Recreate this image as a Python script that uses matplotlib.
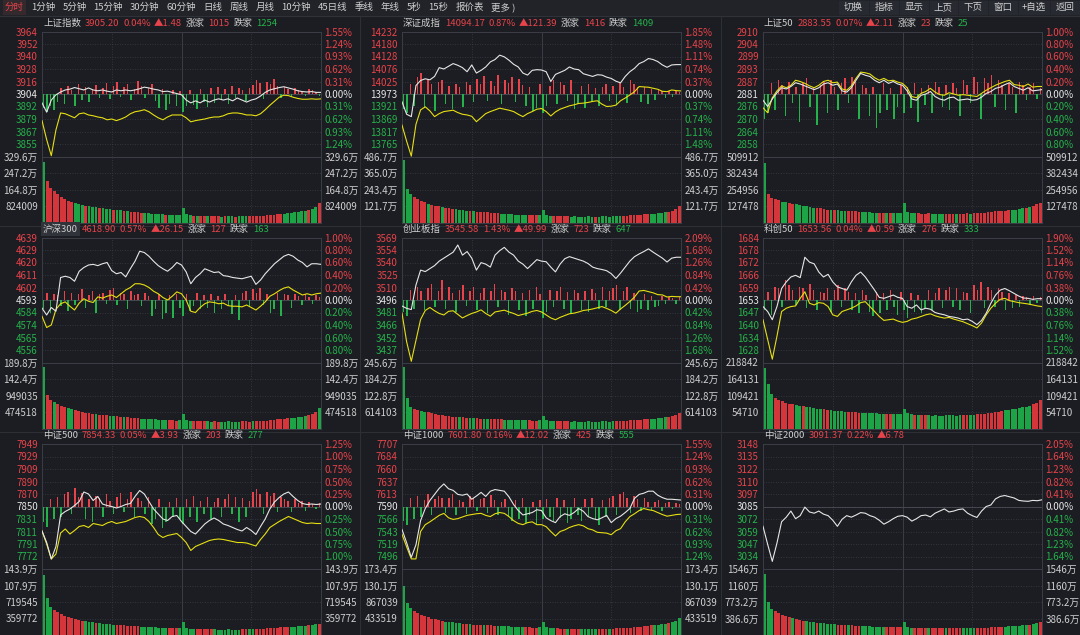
import matplotlib
matplotlib.use('Agg')
import matplotlib.pyplot as plt
from matplotlib.patches import Rectangle
from matplotlib.lines import Line2D

plt.rcParams['font.family'] = ['Noto Sans CJK SC', 'DejaVu Sans']
plt.rcParams['axes.unicode_minus'] = False

# ---- data ----
names = ['上证指数', '深证成指', '上证50', '沪深300', '创业板指', '科创50', '中证500', '中证1000', '中证2000']
last_price = ['3905.20', '14094.17', '2883.55', '4618.90', '3545.58', '1653.56', '7854.33', '7601.80', '3091.37']
pct_chg = ['0.04%', '0.87%', '0.07%', '0.57%', '1.43%', '0.04%', '0.05%', '0.16%', '0.22%']
chg = ['▲1.48', '▲121.39', '▲2.11', '▲26.15', '▲49.99', '▲0.59', '▲3.93', '▲12.02', '▲6.78']
up_count = ['1015', '1416', '23', '127', '723', '276', '203', '425', None]
down_count = ['1254', '1409', '25', '163', '647', '333', '277', '555', None]

price_labels = [
    ['3964', '3952', '3940', '3928', '3916', '3904', '3892', '3879', '3867', '3855'],
    ['14232', '14180', '14128', '14076', '14025', '13973', '13921', '13869', '13817', '13765'],
    ['2910', '2904', '2899', '2893', '2887', '2881', '2876', '2870', '2864', '2858'],
    ['4639', '4629', '4620', '4611', '4602', '4593', '4584', '4574', '4565', '4556'],
    ['3569', '3554', '3540', '3525', '3510', '3496', '3481', '3466', '3452', '3437'],
    ['1684', '1678', '1672', '1666', '1659', '1653', '1647', '1640', '1634', '1628'],
    ['7949', '7929', '7909', '7890', '7870', '7850', '7831', '7811', '7791', '7772'],
    ['7707', '7684', '7660', '7637', '7613', '7590', '7566', '7543', '7519', '7496'],
    ['3148', '3135', '3122', '3110', '3097', '3085', '3072', '3059', '3047', '3034'],
]
pct_labels = [
    ['1.55%', '1.24%', '0.93%', '0.62%', '0.31%', '0.00%', '0.31%', '0.62%', '0.93%', '1.24%'],
    ['1.85%', '1.48%', '1.11%', '0.74%', '0.37%', '0.00%', '0.37%', '0.74%', '1.11%', '1.48%'],
    ['1.00%', '0.80%', '0.60%', '0.40%', '0.20%', '0.00%', '0.20%', '0.40%', '0.60%', '0.80%'],
    ['1.00%', '0.80%', '0.60%', '0.40%', '0.20%', '0.00%', '0.20%', '0.40%', '0.60%', '0.80%'],
    ['2.09%', '1.68%', '1.26%', '0.84%', '0.42%', '0.00%', '0.42%', '0.84%', '1.26%', '1.68%'],
    ['1.90%', '1.52%', '1.14%', '0.76%', '0.38%', '0.00%', '0.38%', '0.76%', '1.14%', '1.52%'],
    ['1.25%', '1.00%', '0.75%', '0.50%', '0.25%', '0.00%', '0.25%', '0.50%', '0.75%', '1.00%'],
    ['1.55%', '1.24%', '0.93%', '0.62%', '0.31%', '0.00%', '0.31%', '0.62%', '0.93%', '1.24%'],
    ['2.05%', '1.64%', '1.23%', '0.82%', '0.41%', '0.00%', '0.41%', '0.82%', '1.23%', '1.64%'],
]
pct_max = [1.55, 1.85, 1.00, 1.00, 2.09, 1.90, 1.25, 1.55, 2.05]

# volume axis top, in 万
vol_top = [329.6, 486.7, 50.9912, 189.8, 245.6, 21.8842, 143.9, 173.4, 1546]
vol_labels = [
    ['329.6万', '247.2万', '164.8万', '824009'],
    ['486.7万', '365.0万', '243.4万', '121.7万'],
    ['509912', '382434', '254956', '127478'],
    ['189.8万', '142.4万', '949035', '474518'],
    ['245.6万', '184.2万', '122.8万', '614103'],
    ['218842', '164131', '109421', '54710'],
    ['143.9万', '107.9万', '719545', '359772'],
    ['173.4万', '130.1万', '867039', '433519'],
    ['1546万', '1160万', '773.2万', '386.6万'],
]

# sample minutes of the intraday lines (every 4 min) and bars (every 3 min)
minutes = list(range(0, 241, 4))
bar_minutes = [1.5 + 3 * k for k in range(80)]

# white = index change %, yellow = equal-weight change %
white_1 = [-0.22, -0.45, -0.15, -0.02, 0.05, 0.10, 0.12, 0.16, 0.13, 0.10,
           0.15, 0.10, 0.08, 0.10, 0.07, 0.05, 0.10, 0.08, 0.10, 0.08,
           0.10, 0.13, 0.17, 0.15, 0.12, 0.10, 0.06, 0.07, 0.04, 0.01,
           -0.02, -0.15, -0.22, -0.17, -0.22, -0.15, -0.20, -0.15, -0.12, -0.15,
           -0.12, -0.17, -0.10, -0.15, -0.20, -0.15, -0.12, -0.05, 0.04, 0.10,
           0.13, 0.16, 0.18, 0.15, 0.12, 0.08, 0.06, 0.05, 0.06, 0.04,
           0.04]
yellow_1 = [-0.66, -1.13, -1.53, -0.89, -0.47, -0.49, -0.54, -0.59, -0.49, -0.47,
            -0.52, -0.54, -0.57, -0.59, -0.64, -0.62, -0.66, -0.62, -0.57, -0.49,
            -0.44, -0.42, -0.39, -0.44, -0.52, -0.59, -0.64, -0.57, -0.52, -0.52,
            -0.52, -0.59, -0.69, -0.66, -0.64, -0.62, -0.59, -0.57, -0.57, -0.54,
            -0.49, -0.47, -0.47, -0.49, -0.52, -0.52, -0.54, -0.49, -0.39, -0.28,
            -0.18, -0.08, -0.03, -0.04, -0.08, -0.11, -0.13, -0.13, -0.12, -0.13,
            -0.12]
white_2 = [-0.23, -0.60, -0.67, 0.25, 0.40, 0.45, 0.42, 0.52, 0.78, 0.74,
           0.82, 0.90, 0.85, 0.78, 0.66, 0.86, 0.62, 0.70, 0.80, 0.95,
           1.02, 1.15, 1.10, 1.00, 0.88, 0.80, 0.62, 0.56, 0.70, 0.72,
           0.71, 0.66, 0.37, 0.58, 0.64, 0.70, 0.80, 0.74, 0.72, 0.60,
           0.56, 0.52, 0.57, 0.56, 0.50, 0.46, 0.38, 0.33, 0.52, 0.66,
           0.76, 0.90, 0.96, 1.05, 1.02, 0.96, 0.86, 0.79, 0.86, 0.87,
           0.87]
yellow_2 = [-0.92, -1.40, -1.84, -0.90, -0.47, -0.38, -0.50, -0.67, -0.58, -0.52,
            -0.50, -0.48, -0.55, -0.60, -0.62, -0.66, -0.82, -0.70, -0.58, -0.52,
            -0.47, -0.42, -0.45, -0.48, -0.52, -0.60, -0.67, -0.58, -0.52, -0.45,
            -0.43, -0.52, -0.65, -0.53, -0.45, -0.40, -0.35, -0.32, -0.28, -0.27,
            -0.25, -0.22, -0.20, -0.30, -0.37, -0.36, -0.33, -0.20, -0.12, -0.03,
            0.07, 0.22, 0.21, 0.20, 0.17, 0.14, 0.08, 0.07, 0.12, 0.10,
            0.09]
white_3 = [-0.10, -0.20, -0.08, 0.02, 0.10, 0.08, 0.12, 0.18, 0.16, 0.13,
           0.10, 0.07, 0.10, 0.16, 0.18, 0.14, 0.16, 0.05, 0.03, 0.10,
           0.22, 0.33, 0.30, 0.28, 0.22, 0.18, 0.22, 0.17, 0.20, 0.16,
           0.14, 0.05, -0.08, -0.10, -0.02, 0.00, 0.04, -0.04, -0.08, -0.10,
           -0.06, -0.05, -0.10, -0.09, -0.08, -0.10, -0.09, -0.05, 0.01, 0.04,
           0.09, 0.11, 0.15, 0.18, 0.12, 0.09, 0.06, 0.10, 0.05, 0.06,
           0.07]
yellow_3 = [-0.22, -0.30, -0.06, 0.05, 0.13, 0.10, 0.14, 0.22, 0.20, 0.17,
            0.13, 0.10, 0.14, 0.20, 0.22, 0.18, 0.19, 0.08, 0.06, 0.13,
            0.25, 0.35, 0.34, 0.32, 0.26, 0.22, 0.25, 0.21, 0.22, 0.19,
            0.17, 0.10, -0.04, -0.06, 0.01, 0.04, 0.09, 0.03, -0.01, -0.02,
            0.02, 0.00, -0.02, -0.01, -0.02, -0.03, -0.04, 0.01, 0.06, 0.10,
            0.14, 0.17, 0.20, 0.22, 0.15, 0.14, 0.12, 0.16, 0.11, 0.12,
            0.12]
white_4 = [-0.13, -0.24, -0.12, -0.18, 0.36, 0.38, 0.36, 0.30, 0.46, 0.52,
           0.56, 0.57, 0.55, 0.58, 0.60, 0.47, 0.42, 0.44, 0.37, 0.50,
           0.62, 0.78, 0.76, 0.70, 0.62, 0.55, 0.50, 0.46, 0.52, 0.60,
           0.56, 0.45, 0.26, 0.36, 0.42, 0.50, 0.47, 0.44, 0.45, 0.39,
           0.38, 0.36, 0.35, 0.34, 0.36, 0.38, 0.25, 0.32, 0.42, 0.50,
           0.58, 0.64, 0.70, 0.73, 0.70, 0.64, 0.60, 0.53, 0.58, 0.58,
           0.57]
yellow_4 = [-0.26, -0.44, -0.40, -0.15, -0.06, -0.03, -0.10, -0.16, -0.05, 0.02,
            -0.02, -0.04, 0.05, 0.03, 0.06, 0.08, 0.04, 0.10, 0.16, 0.20,
            0.26, 0.26, 0.24, 0.20, 0.14, 0.10, 0.04, 0.00, 0.06, 0.13,
            0.10, 0.00, -0.18, -0.20, -0.12, -0.06, -0.03, -0.04, -0.06, -0.05,
            -0.09, -0.10, -0.10, -0.11, -0.08, -0.12, -0.16, -0.10, -0.03, 0.06,
            0.10, 0.15, 0.19, 0.21, 0.16, 0.12, 0.08, 0.10, 0.08, 0.10,
            0.11]
white_5 = [-0.20, -0.28, -0.32, 0.50, 1.00, 0.95, 1.05, 1.15, 1.30, 1.40,
           1.50, 1.60, 1.84, 1.50, 1.62, 1.40, 1.00, 1.25, 1.20, 1.10,
           1.50, 1.65, 1.76, 1.60, 1.50, 1.30, 1.20, 1.05, 1.20, 1.35,
           1.30, 1.28, 1.10, 0.94, 1.20, 1.38, 1.45, 1.40, 1.35, 1.30,
           1.22, 1.10, 1.05, 1.02, 0.98, 0.88, 0.72, 0.90, 1.10, 1.30,
           1.45, 1.54, 1.62, 1.71, 1.60, 1.50, 1.40, 1.27, 1.40, 1.43,
           1.43]
yellow_5 = [-0.44, -1.40, -2.05, -1.35, -0.65, -0.35, -0.25, -0.36, -0.45, -0.50,
            -0.38, -0.36, -0.48, -0.60, -0.52, -0.45, -0.40, -0.33, -0.45, -0.54,
            -0.40, -0.37, -0.34, -0.40, -0.45, -0.52, -0.48, -0.44, -0.38, -0.35,
            -0.40, -0.50, -0.60, -0.66, -0.58, -0.52, -0.46, -0.44, -0.40, -0.35,
            -0.33, -0.30, -0.26, -0.22, -0.28, -0.35, -0.44, -0.30, -0.18, -0.05,
            0.10, 0.30, 0.32, 0.28, 0.24, 0.18, 0.17, 0.10, 0.12, 0.11,
            0.11]
white_6 = [-0.20, -0.35, -0.60, -0.20, 0.35, 0.55, 0.70, 0.75, 0.68, 1.30,
           1.15, 1.10, 0.85, 0.70, 0.78, 0.55, 0.40, 0.35, 0.30, 0.55,
           0.75, 0.85, 0.70, 0.50, 0.30, 0.08, 0.05, 0.10, 0.15, 0.08,
           0.05, -0.20, -0.25, -0.15, -0.30, -0.25, -0.28, -0.38, -0.42, -0.45,
           -0.50, -0.52, -0.55, -0.60, -0.58, -0.65, -0.75, -0.62, -0.40, -0.10,
           0.15, 0.30, 0.35, 0.28, 0.20, 0.12, 0.06, 0.05, 0.02, 0.04,
           0.04]
yellow_6 = [-0.60, -1.20, -1.80, -1.10, -0.35, -0.25, -0.20, -0.18, 0.05, 0.25,
            -0.10, -0.15, -0.08, -0.10, -0.20, -0.45, -0.50, -0.35, -0.30, -0.25,
            -0.18, -0.08, -0.05, -0.20, -0.35, -0.50, -0.62, -0.60, -0.58, -0.64,
            -0.68, -0.65, -0.58, -0.55, -0.50, -0.45, -0.42, -0.48, -0.52, -0.55,
            -0.53, -0.58, -0.62, -0.66, -0.72, -0.78, -0.85, -0.70, -0.45, -0.25,
            -0.10, 0.02, 0.05, -0.02, -0.05, -0.08, -0.10, -0.12, -0.15, -0.18,
            -0.20]
white_7 = [-0.49, -0.72, -1.05, -0.80, -0.17, -0.10, -0.05, 0.02, 0.10, 0.29,
           0.25, 0.12, 0.20, 0.05, 0.02, 0.00, -0.03, 0.00, 0.04, 0.06,
           0.20, 0.32, 0.25, 0.10, -0.05, -0.15, -0.25, -0.28, -0.20, -0.18,
           -0.30, -0.40, -0.50, -0.55, -0.45, -0.35, -0.28, -0.23, -0.28, -0.35,
           -0.38, -0.42, -0.46, -0.49, -0.42, -0.48, -0.56, -0.40, -0.25, -0.05,
           0.09, 0.18, 0.25, 0.29, 0.20, 0.12, 0.06, 0.04, 0.05, 0.04,
           0.05]
yellow_7 = [-0.49, -0.75, -1.05, -0.95, -0.53, -0.45, -0.55, -0.48, -0.40, -0.38,
            -0.42, -0.34, -0.36, -0.38, -0.33, -0.30, -0.34, -0.32, -0.30, -0.26,
            -0.22, -0.20, -0.22, -0.30, -0.42, -0.56, -0.62, -0.58, -0.56, -0.54,
            -0.62, -0.72, -0.88, -0.80, -0.76, -0.72, -0.68, -0.66, -0.65, -0.66,
            -0.68, -0.70, -0.72, -0.72, -0.73, -0.76, -0.79, -0.66, -0.55, -0.42,
            -0.36, -0.30, -0.25, -0.20, -0.24, -0.28, -0.32, -0.34, -0.33, -0.34,
            -0.34]
white_8 = [-0.57, -0.90, -1.26, -0.95, -0.35, -0.05, 0.15, 0.30, 0.45, 0.56,
           0.44, 0.40, 0.30, 0.28, 0.31, 0.18, 0.26, 0.35, 0.25, 0.38,
           0.42, 0.40, 0.38, 0.24, 0.05, -0.10, -0.21, -0.18, -0.15, -0.08,
           -0.10, -0.28, -0.35, -0.40, -0.25, -0.18, -0.22, -0.15, -0.05, -0.12,
           -0.25, -0.30, -0.33, -0.28, -0.22, -0.40, -0.30, -0.24, -0.15, -0.05,
           0.20, 0.30, 0.33, 0.38, 0.38, 0.28, 0.22, 0.18, 0.18, 0.17,
           0.16]
yellow_8 = [-0.69, -1.00, -1.30, -1.30, -0.62, -0.45, -0.38, -0.30, -0.22, -0.17,
            -0.28, -0.32, -0.30, -0.26, -0.22, -0.20, -0.18, -0.17, -0.22, -0.25,
            -0.18, -0.15, -0.17, -0.25, -0.35, -0.42, -0.45, -0.40, -0.38, -0.45,
            -0.45, -0.50, -0.62, -0.73, -0.62, -0.58, -0.52, -0.48, -0.45, -0.48,
            -0.55, -0.58, -0.64, -0.65, -0.66, -0.70, -0.60, -0.55, -0.38, -0.25,
            -0.18, -0.10, -0.05, -0.08, -0.10, -0.15, -0.20, -0.24, -0.22, -0.20,
            -0.19]
white_9 = [-0.65, -1.24, -1.80, -1.20, -0.50, -0.35, -0.15, -0.40, -0.30, -0.02,
           -0.18, -0.22, -0.15, -0.25, -0.30, -0.45, -0.65, -0.42, -0.30, -0.35,
           -0.28, -0.20, -0.22, -0.30, -0.35, -0.45, -0.58, -0.50, -0.40, -0.32,
           -0.30, -0.35, -0.48, -0.40, -0.30, -0.28, -0.34, -0.22, -0.15, -0.08,
           -0.18, -0.15, -0.10, -0.08, -0.22, -0.30, -0.36, -0.15, 0.00, 0.05,
           0.25, 0.33, 0.36, 0.32, 0.28, 0.20, 0.18, 0.17, 0.20, 0.19,
           0.22]

# red/green strength bars in the price area, in %
breadth_1 = [-0.35, -0.45, -0.30, -0.40, -0.20, 0.15, -0.25, 0.20, 0.10, -0.30,
             0.25, -0.15, 0.18, -0.20, 0.12, 0.22, -0.10, 0.15, 0.28, -0.12,
             0.20, 0.30, -0.08, 0.18, 0.25, -0.15, 0.12, 0.32, 0.20, -0.10,
             0.16, 0.24, -0.18, -0.35, 0.12, -0.40, -0.25, 0.10, -0.30, 0.08,
             -0.45, -0.30, 0.10, -0.28, -0.38, 0.12, -0.20, -0.32, 0.15, -0.22,
             0.18, -0.15, 0.12, -0.25, 0.20, -0.10, 0.14, 0.10, -0.18, 0.16,
             0.22, 0.35, 0.28, -0.12, 0.30, 0.25, 0.38, 0.20, -0.10, 0.18,
             0.12, -0.08, 0.15, 0.10, 0.08, -0.06, 0.12, 0.10, 0.06, -0.05]
breadth_2 = [-0.45, -0.55, 0.30, -0.35, 0.50, 0.62, -0.40, 0.45, 0.30, -0.50,
             0.35, 0.40, -0.30, 0.25, -0.45, 0.30, 0.20, -0.38, 0.35, 0.28,
             -0.25, 0.45, 0.30, 0.52, -0.20, 0.38, 0.25, 0.55, -0.30, 0.40,
             0.32, 0.50, -0.25, 0.45, 0.28, -0.35, 0.20, -0.50, -0.40, 0.30,
             -0.55, -0.35, 0.25, 0.40, -0.30, 0.35, 0.28, -0.20, 0.42, -0.45,
             -0.30, 0.25, -0.40, 0.30, -0.25, 0.18, -0.35, 0.22, 0.30, -0.20,
             0.25, -0.30, 0.35, 0.20, -0.28, 0.42, 0.30, 0.22, -0.25, 0.20,
             -0.30, 0.15, -0.18, 0.12, 0.10, -0.12, 0.08, -0.10, 0.10, 0.06]
breadth_3 = [-0.40, -0.30, 0.18, -0.25, 0.22, 0.15, -0.35, 0.20, -0.15, 0.12,
             -0.45, 0.18, 0.25, -0.20, 0.10, -0.50, 0.15, 0.20, -0.30, 0.22,
             0.12, -0.25, 0.18, 0.25, -0.15, 0.28, 0.20, -0.40, 0.15, 0.10,
             -0.35, 0.12, -0.55, -0.30, 0.18, -0.25, 0.10, -0.40, -0.20, 0.15,
             -0.30, 0.12, -0.22, 0.18, -0.45, 0.10, -0.18, 0.14, -0.30, 0.20,
             0.12, -0.20, 0.15, -0.25, 0.18, 0.10, -0.35, 0.22, 0.15, -0.15,
             0.28, 0.20, -0.40, 0.25, 0.18, 0.30, -0.20, 0.22, 0.15, -0.25,
             0.18, 0.12, -0.30, 0.20, 0.15, -0.10, 0.12, 0.18, -0.08, 0.10]
breadth_4 = [-0.15, 0.12, -0.20, 0.10, 0.08, -0.10, 0.15, -0.18, 0.12, -0.08,
             0.10, 0.18, -0.12, 0.08, 0.14, -0.20, 0.10, 0.12, -0.06, 0.16,
             0.20, -0.08, 0.12, 0.10, -0.15, 0.14, 0.08, 0.10, -0.10, 0.12,
             0.06, -0.25, -0.15, 0.10, -0.30, -0.20, 0.08, -0.28, 0.10, -0.12,
             -0.25, 0.10, -0.18, -0.10, 0.12, -0.15, 0.08, -0.12, 0.10, -0.20,
             0.06, -0.15, 0.10, -0.10, -0.22, 0.08, -0.32, 0.12, 0.15, -0.10,
             0.18, 0.12, 0.20, -0.08, 0.10, -0.20, -0.15, 0.12, -0.25, 0.10,
             0.08, -0.12, 0.10, 0.06, -0.08, 0.10, 0.05, -0.06, 0.08, 0.05]
breadth_5 = [-0.40, -0.55, 0.35, -0.30, 0.45, 0.30, -0.35, 0.40, 0.55, -0.25,
             0.30, 0.66, -0.30, 0.45, 0.25, -0.40, 0.35, 0.50, -0.20, 0.30,
             0.42, -0.35, 0.25, 0.40, -0.45, 0.30, 0.55, -0.25, 0.35, 0.28,
             -0.50, 0.40, 0.30, -0.35, 0.25, -0.55, 0.32, -0.30, 0.45, 0.20,
             -0.60, -0.40, 0.35, -0.25, 0.30, 0.42, -0.30, 0.28, -0.45, 0.35,
             0.25, -0.35, 0.30, -0.40, 0.38, 0.22, -0.30, 0.45, -0.25, 0.30,
             0.40, 0.50, -0.35, 0.30, 0.45, -0.30, 0.25, -0.40, -0.30, 0.20,
             -0.35, 0.15, -0.25, -0.20, 0.12, -0.15, 0.10, 0.08, -0.12, 0.10]
breadth_6 = [-0.30, 0.25, -0.45, 0.40, 0.35, -0.20, 0.60, 0.45, 0.30, -0.15,
             0.40, 0.35, -0.25, 0.50, 0.30, -0.30, 0.25, 0.20, 0.35, -0.35,
             0.30, 0.45, -0.20, 0.38, 0.25, -0.30, 0.20, -0.40, 0.30, 0.15,
             -0.35, -0.50, 0.25, -0.40, 0.20, -0.30, 0.30, -0.20, -0.45, 0.25,
             -0.30, -0.55, 0.20, -0.35, 0.15, -0.40, -0.25, 0.30, -0.30, 0.20,
             0.35, -0.25, 0.30, 0.40, -0.20, 0.35, -0.30, 0.25, 0.20, -0.40,
             0.45, 0.30, 0.55, -0.25, 0.40, 0.30, -0.20, 0.35, 0.25, -0.30,
             0.20, -0.25, 0.15, -0.20, 0.12, 0.10, -0.15, 0.12, -0.10, 0.08]
breadth_7 = [-0.30, -0.40, 0.15, -0.25, 0.20, -0.20, 0.25, 0.30, -0.15, 0.38,
             0.20, 0.28, -0.25, 0.15, -0.30, 0.22, 0.18, -0.20, 0.25, 0.12,
             -0.15, 0.20, 0.28, -0.10, 0.15, 0.30, -0.20, 0.18, 0.12, -0.15,
             0.20, -0.35, -0.25, 0.15, -0.43, -0.30, 0.10, -0.20, 0.18, -0.25,
             -0.35, 0.15, -0.20, 0.22, -0.30, 0.12, -0.15, 0.20, -0.25, 0.10,
             0.18, -0.20, 0.15, 0.25, -0.15, 0.20, -0.30, 0.18, -0.20, 0.12,
             0.30, 0.35, 0.25, -0.15, 0.30, 0.22, 0.28, -0.10, 0.20, 0.15,
             0.12, -0.10, 0.15, 0.08, 0.12, -0.08, 0.10, 0.06, -0.05, 0.08]
breadth_8 = [-0.35, -0.45, 0.20, -0.30, 0.25, -0.25, 0.15, 0.30, -0.20, 0.18,
             0.25, 0.20, -0.15, 0.22, 0.30, -0.20, 0.15, 0.12, -0.18, 0.25,
             0.20, -0.10, 0.18, 0.22, -0.15, 0.28, 0.15, -0.20, 0.12, 0.18,
             -0.25, -0.35, 0.15, -0.30, 0.20, -0.40, -0.20, 0.12, -0.45, 0.15,
             -0.30, 0.18, -0.25, -0.35, 0.20, -0.28, 0.15, -0.40, -0.30, 0.22,
             -0.20, -0.35, 0.18, -0.25, 0.20, -0.30, -0.45, 0.15, -0.25, 0.20,
             0.25, -0.20, 0.30, 0.36, 0.20, -0.15, 0.25, 0.18, -0.10, 0.20,
             0.12, -0.08, 0.10, 0.15, -0.10, 0.08, 0.10, -0.06, 0.08, 0.06]

# traded volume per bar, in 万
vol_1 = [300, 205, 170, 155, 140, 128, 118, 108, 100, 95,
         90, 86, 82, 80, 78, 75, 72, 70, 68, 66,
         64, 62, 60, 58, 56, 54, 52, 50, 48, 46,
         45, 44, 42, 41, 40, 39, 38, 37, 36, 38,
         70, 40, 36, 34, 33, 32, 31, 32, 30, 31,
         30, 29, 30, 31, 30, 29, 30, 31, 32, 30,
         31, 32, 33, 34, 35, 36, 38, 40, 42, 44,
         46, 48, 50, 52, 55, 58, 62, 68, 78, 95]
vol_2 = [460, 250, 210, 190, 175, 160, 150, 140, 132, 125,
         120, 115, 110, 106, 102, 98, 95, 92, 88, 85,
         82, 80, 78, 76, 74, 72, 70, 68, 66, 64,
         62, 60, 58, 57, 56, 55, 54, 53, 52, 54,
         95, 55, 50, 48, 47, 46, 45, 46, 44, 45,
         44, 43, 44, 45, 44, 43, 44, 45, 46, 44,
         45, 46, 47, 48, 50, 52, 54, 56, 58, 60,
         62, 64, 66, 68, 72, 76, 80, 88, 100, 125]
vol_3 = [46, 22, 19, 18, 17, 16, 15.5, 15, 14.5, 14,
         13.5, 13, 12.5, 12, 11.5, 11, 11, 10.5, 10, 10,
         9.5, 9.5, 9, 9, 8.8, 8.5, 8.5, 8.2, 8, 8,
         7.8, 7.6, 7.5, 7.4, 7.3, 7.2, 7, 7, 7, 7.2,
         15, 8, 7.5, 7.2, 7, 6.8, 6.8, 7, 6.6, 6.8,
         6.6, 6.5, 6.6, 6.8, 6.6, 6.5, 6.6, 6.8, 7, 6.8,
         7, 7.2, 7.4, 7.6, 8, 8.2, 8.5, 8.8, 9, 9.2,
         9.5, 9.8, 10, 10.5, 11, 11.5, 12, 13, 14, 15]
vol_4 = [178, 95, 82, 76, 70, 65, 61, 58, 55, 52,
         50, 48, 46, 44, 43, 42, 40, 39, 38, 37,
         36, 35, 34, 33, 32, 31, 30, 29, 28, 27.5,
         27, 26.5, 26, 25.5, 25, 24.5, 24, 23.5, 23, 24,
         42, 25, 23, 22, 21.5, 21, 20.5, 21, 20, 20.5,
         20, 19.5, 20, 20.5, 20, 19.5, 20, 20.5, 21, 20,
         20.5, 21, 21.5, 22, 23, 24, 25, 26, 27, 28,
         29, 30, 31, 32, 34, 36, 38, 42, 48, 58]
vol_5 = [227, 115, 80, 72, 68, 65, 62, 60, 57, 54,
         51, 49, 47, 45, 44, 43, 42, 41, 40, 39,
         38.5, 38, 37, 36.5, 36, 35.5, 35, 34, 33.5, 33,
         32.5, 32, 31.5, 31, 30.5, 30, 30, 29.5, 29, 30,
         46, 31, 29, 28, 27.5, 27, 26.5, 27, 26, 26.5,
         26, 25.5, 26, 26.5, 26, 25.5, 26, 26.5, 27, 26,
         26.5, 27, 27.5, 28, 29, 30, 31, 32, 33, 34,
         35, 36, 37, 38, 40, 42, 44, 46, 50, 56]
vol_6 = [20.2, 14.7, 11.4, 10, 9.5, 9, 8.6, 8.2, 8, 7.8,
         7.6, 7.4, 7.2, 7, 6.8, 6.6, 6.5, 6.3, 6.2, 6,
         5.9, 5.8, 5.7, 5.6, 5.5, 5.5, 5.4, 5.3, 5.2, 5.2,
         5.1, 5, 5, 4.9, 4.9, 4.8, 4.8, 4.7, 4.7, 4.8,
         6.5, 5, 4.7, 4.6, 4.5, 4.5, 4.4, 4.5, 4.3, 4.4,
         4.3, 4.3, 4.4, 4.5, 4.4, 4.3, 4.4, 4.5, 4.6, 4.5,
         4.6, 4.7, 4.8, 4.9, 5, 5.2, 5.4, 5.6, 5.8, 6,
         6.2, 6.4, 6.6, 6.8, 7, 7.2, 7.5, 8, 8.5, 9.5]
vol_7 = [130, 81, 62, 55, 50, 46, 42, 39, 37, 35,
         33, 31, 30, 29, 28, 27, 26, 25, 24, 23,
         22.5, 22, 21.5, 21, 20.5, 20, 19.5, 19, 18.5, 18,
         17.5, 17, 16.5, 16, 16, 15.5, 15, 15, 14.5, 15,
         28, 15, 14, 13.5, 13, 12.5, 12, 12.5, 12, 12,
         11.5, 11, 11.5, 12, 11.5, 11, 11.5, 12, 12.5, 12,
         12.5, 13, 13.5, 14, 14.5, 15, 15.5, 16, 16.5, 17,
         17.5, 18, 18.5, 19, 19.5, 20, 21, 22, 23, 25]
vol_8 = [130, 85, 72, 64, 58, 53, 49, 46, 43, 41,
         39, 37, 35, 34, 33, 32, 31, 30, 29, 28,
         27.5, 27, 26.5, 26, 25.5, 25, 24.5, 24, 23.5, 23,
         22.5, 22, 21.5, 21, 20.5, 20, 20, 19.5, 19, 20,
         34, 20, 18.5, 18, 17.5, 17, 16.5, 17, 16.5, 16.5,
         16, 15.5, 16, 16.5, 16, 15.5, 16, 16.5, 17, 16.5,
         17, 17.5, 18, 18.5, 19, 19.5, 20, 21, 22, 23,
         24, 25, 26, 27, 28, 30, 32, 34, 38, 45]
vol_9 = [1420, 780, 620, 560, 510, 470, 440, 410, 390, 370,
         350, 335, 320, 310, 300, 290, 280, 272, 265, 258,
         250, 245, 240, 235, 230, 225, 220, 215, 210, 205,
         200, 196, 192, 188, 185, 182, 180, 178, 176, 180,
         300, 185, 175, 170, 166, 162, 160, 162, 158, 160,
         156, 154, 156, 158, 156, 154, 156, 158, 160, 158,
         160, 162, 165, 168, 172, 176, 180, 185, 190, 195,
         200, 205, 212, 220, 228, 236, 245, 258, 275, 300]

whites = [white_1, white_2, white_3, white_4, white_5, white_6, white_7, white_8, white_9]
yellows = [yellow_1, yellow_2, yellow_3, yellow_4, yellow_5, yellow_6, yellow_7, yellow_8, None]
breadths = [breadth_1, breadth_2, breadth_3, breadth_4, breadth_5, breadth_6, breadth_7, breadth_8, None]
volumes = [vol_1, vol_2, vol_3, vol_4, vol_5, vol_6, vol_7, vol_8, vol_9]

toolbar_left = ['分时', '1分钟', '5分钟', '15分钟', '30分钟', '60分钟', '日线', '周线', '月线',
                '10分钟', '45日线', '季线', '年线', '5秒', '15秒', '报价表', '更多 )']
toolbar_right = ['切换', '指标', '显示', '上页', '下页', '窗口', '+自选', '返回']

# ---- style ----
BG = '#1b1d22'
BAR_BG = '#212329'
FRAME = '#3b3e46'
GRID = '#3a3d45'
RED = '#e8434a'
GREEN = '#26b24b'
WHITE = '#e6e6e6'
YELLOW = '#e6df12'
TXT = '#cfcfcf'
VRED = '#d4363c'
VGREEN = '#1da447'

W, H = 1080, 635
COL_LEFT = [42, 402, 763]
ROW_TOP = [31.5, 237.5, 444]
PLOT_W, PRICE_H, VOL_H = 279, 125, 66
FS = 7


def fx(px):
    return px / W


def fy(py):
    return 1 - py / H


def style_axes(ax):
    ax.set_facecolor('none')
    for sp in ax.spines.values():
        sp.set_color(FRAME)
        sp.set_linewidth(0.7)
    ax.set_xlim(0, 240)
    ax.set_xticks([60, 120, 180])
    ax.tick_params(axis='x', length=0, labelbottom=False)
    ax.tick_params(axis='y', length=0, pad=3, labelsize=FS)
    ax.grid(True, color=GRID, linestyle=(0, (1, 2)), linewidth=0.6)
    ax.axvline(120, color=FRAME, linewidth=0.7, zorder=1)


def right_labels(ax, ticks, labels, colors):
    sec = ax.secondary_yaxis('right')
    sec.set_yticks(ticks)
    sec.set_yticklabels(labels)
    sec.tick_params(length=0, pad=2.5, labelsize=FS)
    for sp in sec.spines.values():
        sp.set_visible(False)
    for lbl, c in zip(sec.get_yticklabels(), colors):
        lbl.set_color(c)


fig = plt.figure(figsize=(10.8, 6.35), dpi=100, facecolor=BG)
renderer = fig.canvas.get_renderer()

# toolbar
fig.patches.append(Rectangle((0, fy(15.5)), 1, 15.5 / H, transform=fig.transFigure,
                             facecolor=BAR_BG, edgecolor='none', zorder=0))
fig.lines.append(Line2D([0, 1], [fy(15.5), fy(15.5)], transform=fig.transFigure,
                        color='#2f3238', linewidth=0.8))
x = 5
for k, item in enumerate(toolbar_left):
    kw = {}
    col = TXT
    if k == 0:
        col = RED
        kw['bbox'] = dict(boxstyle='square,pad=0.25', fc='#34292c', ec='none')
    t = fig.text(fx(x), fy(7.5), item, color=col, fontsize=6.8, ha='left', va='center', **kw)
    x += t.get_window_extent(renderer).width + 7
cells = [838, 869, 899, 929, 958, 988, 1018, 1050, 1080]
for k, item in enumerate(toolbar_right):
    fig.patches.append(Rectangle((fx(cells[k] + 0.5), fy(15)), (cells[k + 1] - cells[k] - 1) / W, 14 / H,
                                 transform=fig.transFigure, facecolor='#272a30', edgecolor='none'))
    fig.text(fx((cells[k] + cells[k + 1]) / 2), fy(7.5), item, color=TXT, fontsize=6.8,
             ha='center', va='center')

# separators between panels
for sx in [360, 721]:
    fig.lines.append(Line2D([fx(sx), fx(sx)], [fy(15.5), 0], transform=fig.transFigure,
                            color='#2c2f35', linewidth=0.8))
for sy in [226, 432]:
    fig.lines.append(Line2D([0, 1], [fy(sy), fy(sy)], transform=fig.transFigure,
                            color='#2c2f35', linewidth=0.8))

price_colors = [RED] * 5 + [WHITE] + [GREEN] * 4

for i in range(9):
    r, c = divmod(i, 3)
    left = COL_LEFT[c]
    top = ROW_TOP[r]
    m = pct_max[i]

    ax = fig.add_axes([fx(left), fy(top + PRICE_H), PLOT_W / W, PRICE_H / H])
    style_axes(ax)
    ax.set_ylim(-m, m)
    ticks = [m * f for f in (1, 0.8, 0.6, 0.4, 0.2, 0, -0.2, -0.4, -0.6, -0.8)]
    ax.set_yticks(ticks)
    ax.set_yticklabels(price_labels[i])
    for lbl, col in zip(ax.get_yticklabels(), price_colors):
        lbl.set_color(col)
    right_labels(ax, ticks, pct_labels[i], price_colors)
    ax.axhline(0, color='#4a4d55', linewidth=0.7, zorder=1)

    if breadths[i] is not None:
        bcol = [RED if v > 0 else GREEN for v in breadths[i]]
        ax.bar(bar_minutes, breadths[i], width=1.3, color=bcol, linewidth=0, zorder=2)
    if yellows[i] is not None:
        ax.plot(minutes, yellows[i], color=YELLOW, linewidth=0.8, zorder=3)
    ax.plot(minutes, whites[i], color=WHITE, linewidth=0.8, zorder=4)

    # volume panel
    axv = fig.add_axes([fx(left), fy(top + PRICE_H + VOL_H), PLOT_W / W, VOL_H / H])
    style_axes(axv)
    vt = vol_top[i]
    axv.set_ylim(0, vt)
    vticks = [vt, vt * 0.75, vt * 0.5, vt * 0.25]
    axv.set_yticks(vticks)
    axv.set_yticklabels(vol_labels[i])
    for lbl in axv.get_yticklabels():
        lbl.set_color(TXT)
    right_labels(axv, vticks, vol_labels[i], [TXT] * 4)
    w = whites[i]
    vcol = []
    for bm in bar_minutes:
        k = int(bm // 4)
        vcol.append(VRED if w[k + 1] >= w[k] else VGREEN)
    axv.bar(bar_minutes, volumes[i], width=2.4, color=vcol, linewidth=0, zorder=2)

    # header line
    pieces = [(names[i], TXT), (last_price[i], RED), (pct_chg[i], RED), (chg[i], RED)]
    if up_count[i] is not None:
        pieces += [('涨家', TXT), (up_count[i], RED), ('跌家', TXT), (down_count[i], GREEN)]
    hx = left + 1
    for k, (txt, col) in enumerate(pieces):
        kw = {}
        if i == 3 and k == 0:
            kw['bbox'] = dict(boxstyle='square,pad=0.2', fc='#30333a', ec='none')
        t = fig.text(fx(hx), fy(top - 8.5), txt, color=col, fontsize=6.8,
                     ha='left', va='center', **kw)
        hx += t.get_window_extent(renderer).width + (4 if k in (0, 4, 6) else 3.5)

fig.savefig('out.png', dpi=100, facecolor=BG)
